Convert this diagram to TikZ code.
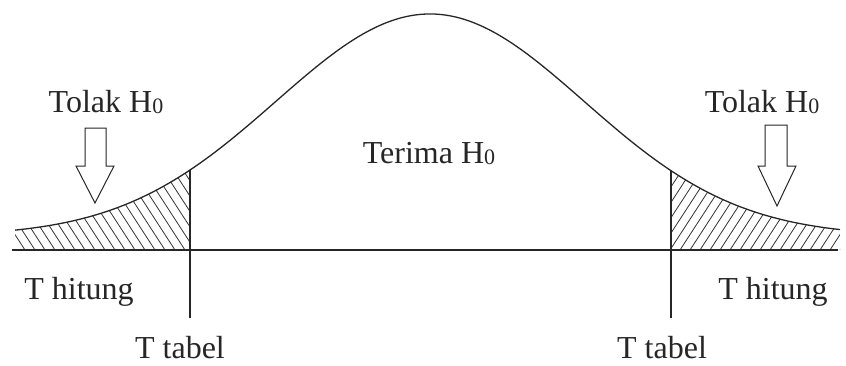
\documentclass[tikz,border=0pt]{standalone}
\usepackage{fontspec}
\setmainfont{Liberation Serif}
\begin{document}
\begin{tikzpicture}[x=1pt,y=-1pt,
  lbl/.style={font=\fontsize{32}{32}\selectfont, text=black!85, inner sep=0pt, anchor=base},
  hatch/.style={line width=0.8pt, black!80},
  bigarrow/.style={line width=1pt, black!85, fill=white},
  declare function={gy(\x)=250-14-222*exp(-((\x-430)/217.9)^2);}]
\newcommand{\Hsub}{H\raisebox{-1.5pt}{\fontsize{22}{22}\selectfont 0}}
\path[use as bounding box] (0,0) rectangle (846,365);
% named points
\coordinate (axL) at (12,250);
\coordinate (axR) at (838,250);
\coordinate (vL) at (190,{gy(190)});
\coordinate (vLb) at (190,318);
\coordinate (vR) at (671,{gy(671)});
\coordinate (vRb) at (671,318);
% hatching left
\begin{scope}
\clip plot[domain=15:190,samples=60] (\x,{gy(\x)}) -- (190,250) -- (15,250) -- cycle;
\foreach \i in {-100,-90,...,200} \draw[hatch] (\i,150) -- (\i+65,250);
\end{scope}
% hatching right
\begin{scope}
\clip plot[domain=671:840,samples=60] (\x,{gy(\x)}) -- (840,250) -- (671,250) -- cycle;
\foreach \i in {600,610,...,900} \draw[hatch] (\i,250) -- (\i+65,150);
\end{scope}
% curve
\draw[line width=1.3pt, black!85] plot[domain=15:840,samples=250,smooth] (\x,{gy(\x)});
% axis and verticals
\draw[line width=1.2pt, black!85] (axL) -- (axR);
\draw[line width=1.2pt, black!85] (vL) -- (vLb);
\draw[line width=1.2pt, black!85] (vR) -- (vRb);
% hollow arrows
\draw[bigarrow] (85,128) -- (106,128) -- (106,166) -- (114,166) -- (95,203) -- (76,166) -- (85,166) -- cycle;
\draw[bigarrow] (765,125) -- (787,125) -- (787,166) -- (796,166) -- (777,206) -- (758,166) -- (765,166) -- cycle;
% labels
\node[lbl] (tolakL) at (106,112) {Tolak \Hsub};
\node[lbl] (tolakR) at (762,112) {Tolak \Hsub};
\node[lbl] (terima) at (429,163) {Terima \Hsub};
\node[lbl] (hitL) at (79,299) {T hitung};
\node[lbl] (hitR) at (773,299) {T hitung};
\node[lbl] (tabL) at (180,358) {T tabel};
\node[lbl] (tabR) at (662,358) {T tabel};
\end{tikzpicture}
\end{document}
